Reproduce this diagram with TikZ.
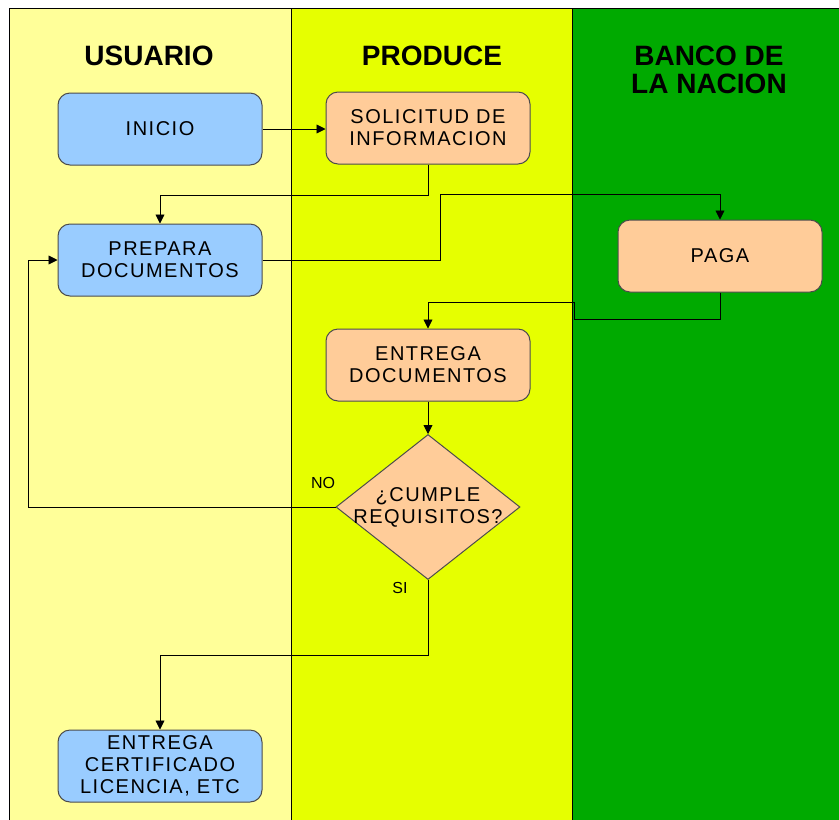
\documentclass[tikz,border=0pt]{standalone}
\usepackage{fontspec}
\setmainfont{Liberation Sans}
\newfontfamily\boxfont[LetterSpace=7.5]{Liberation Sans}
\usetikzlibrary{arrows.meta,shapes.geometric}
\definecolor{laneA}{HTML}{FFFF99}
\definecolor{laneB}{HTML}{E6FF00}
\definecolor{laneC}{HTML}{00AA00}
\definecolor{boxblue}{HTML}{99CCFF}
\definecolor{boxorange}{HTML}{FFCC99}
\begin{document}
\begin{tikzpicture}[x=1pt,y=-1pt,
  box/.style={rounded corners=12pt, draw=black!70, line width=1pt, minimum width=204pt, minimum height=72pt, align=center, inner sep=0pt, font=\boxfont\fontsize{20}{22}\selectfont},
  bluebox/.style={box, fill=boxblue},
  orangebox/.style={box, fill=boxorange},
  dia/.style={diamond, draw=black!70, line width=1pt, fill=boxorange, minimum width=184pt, minimum height=145pt, inner sep=0pt},
  diatext/.style={align=center, font=\boxfont\fontsize{20}{22}\selectfont},
  title/.style={align=center, font=\bfseries\fontsize{28}{28}\selectfont},
  conn/.style={draw=black, line width=0.9pt, -{Triangle[length=9pt,width=9pt]}},
  lbl/.style={font=\fontsize{16}{18}\selectfont, inner sep=0pt}]
\useasboundingbox (0,0) rectangle (839,820);
% lanes
\fill[laneA] (9,8) rectangle (291,820);
\fill[laneB] (291,8) rectangle (572,820);
\fill[laneC] (572,8) rectangle (839,820);
\draw[line width=1pt] (9,820) -- (9,8) -- (839,8);
\draw[line width=0.8pt] (291,8) -- (291,820);
\draw[line width=0.8pt] (572,8) -- (572,820);
% titles
\node[title] (tu) at (149,56) {USUARIO};
\node[title] (tp) at (432,56) {PRODUCE};
\node[title] (tb) at (709,70) {BANCO DE\\LA NACION};
% nodes
\node[bluebox] (ini) at (160,129) {INICIO};
\node[orangebox] (sol) at (428,128) {SOLICITUD DE\\INFORMACION};
\node[bluebox] (prep) at (160,260) {PREPARA\\DOCUMENTOS};
\node[orangebox] (paga) at (720,256) {PAGA};
\node[orangebox] (ent) at (428,365) {ENTREGA\\DOCUMENTOS};
\node[dia] (dec) at (428,507) {};
\node[diatext] (dect) at (dec) {¿CUMPLE\\REQUISITOS?};
\node[bluebox] (cert) at (160,766) {ENTREGA\\CERTIFICADO\\LICENCIA, ETC};
% connectors
\draw[conn] (ini.east) -- (sol.west |- ini.east);
\draw[conn] (sol.south) -- (sol.south |- 0,195) -| (prep.north);
\draw[conn] (prep.east) -- (440,260) -- (440,194) -| (paga.north);
\draw[conn] (paga.south) -- (720,319) -- (574,319) -- (574,302) -| (ent.north);
\draw[conn] (ent.south) -- (dec.north);
\draw[conn] (dec.west) -- (28,507) |- (prep.west);
\draw[conn] (dec.south) -- (428,655) -| (cert.north);
\node[lbl] (no) at (323,483) {NO};
\node[lbl] (si) at (400,588) {SI};
\end{tikzpicture}
\end{document}
